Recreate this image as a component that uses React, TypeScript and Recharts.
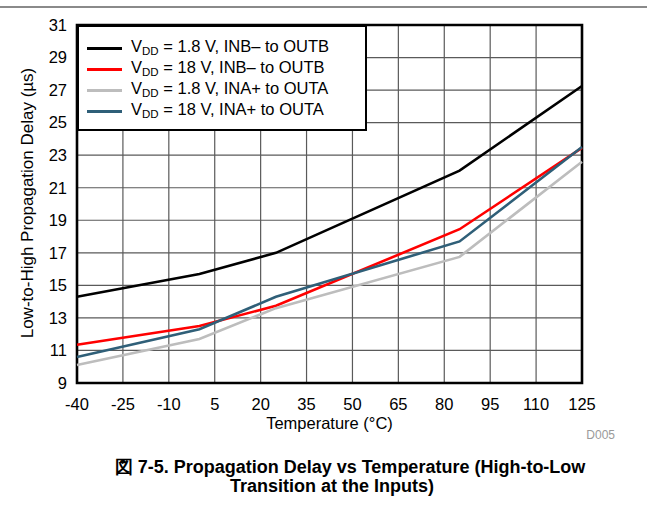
import { CartesianGrid, Label, Line, LineChart, ReferenceArea, XAxis, YAxis } from "recharts"

// Low-to-high propagation delay vs temperature, four driver paths.
const temperatures = [-40, 0, 25, 85, 125]
const vdd1v8InbToOutb = [14.3, 15.7, 17.0, 22.05, 27.25]
const vdd18InbToOutb = [11.35, 12.5, 13.75, 18.45, 23.45]
const vdd1v8InaToOuta = [10.1, 11.7, 13.6, 16.75, 22.6]
const vdd18InaToOuta = [10.6, 12.3, 14.3, 17.7, 23.5]

const xTicks = [-40, -25, -10, 5, 20, 35, 50, 65, 80, 95, 110, 125]
const yTicks = [9, 11, 13, 15, 17, 19, 21, 23, 25, 27, 29, 31]

const FONT = "'Liberation Sans', Arial, Helvetica, sans-serif"

const SERIES = [
  { key: "a", vdd: "1.8 V", path: "INB\u2013 to OUTB", color: "#000000", values: vdd1v8InbToOutb },
  { key: "b", vdd: "18 V", path: "INB\u2013 to OUTB", color: "#ff0000", values: vdd18InbToOutb },
  { key: "c", vdd: "1.8 V", path: "INA+ to OUTA", color: "#bdbdbd", values: vdd1v8InaToOuta },
  { key: "d", vdd: "18 V", path: "INA+ to OUTA", color: "#2f5f78", values: vdd18InaToOuta },
]

const rows = temperatures.map((t, i) => ({
  t,
  ...Object.fromEntries(SERIES.map((s) => [s.key, s.values[i]])),
}))

function LegendBox() {
  return (
    <div
      style={{
        position: "absolute",
        left: 77,
        top: 25,
        width: 290,
        height: 106,
        boxSizing: "border-box",
        border: "2px solid #000",
        background: "#fff",
        paddingTop: 11,
        paddingLeft: 8,
      }}
    >
      {SERIES.map((s) => (
        <div key={s.key} style={{ display: "flex", alignItems: "center", height: 21 }}>
          <div style={{ width: 35, height: 3, background: s.color, marginRight: 9 }} />
          <span style={{ fontSize: 16.5, color: "#000", whiteSpace: "nowrap", lineHeight: "16px" }}>
            V<sub style={{ fontSize: 11.5, verticalAlign: "-3px" }}>DD</sub> = {s.vdd}, {s.path}
          </span>
        </div>
      ))}
    </div>
  )
}

const titleStyle = {
  position: "absolute" as const,
  left: 0,
  textAlign: "center" as const,
  fontSize: 18,
  fontWeight: "bold" as const,
  color: "#000",
  whiteSpace: "nowrap" as const,
}

export default function App() {
  return (
    <div
      style={{
        position: "absolute",
        left: 0,
        top: 0,
        width: 647,
        height: 508,
        background: "#fff",
        fontFamily: FONT,
        overflow: "hidden",
      }}
    >
      <div style={{ position: "absolute", left: 0, top: 6, width: 647, height: 2, background: "#8a8a8a" }} />
      <LineChart
        width={647}
        height={440}
        data={rows}
        margin={{ top: 25, right: 65, bottom: 7, left: 0 }}
        style={{ fontFamily: FONT }}
      >
        <CartesianGrid stroke="#5a5a5a" strokeWidth={1.2} />
        <XAxis
          dataKey="t"
          type="number"
          domain={[-40, 125]}
          ticks={xTicks}
          height={50}
          tickLine={false}
          axisLine={false}
          tickSize={0}
          tickMargin={15}
          tick={{ fill: "#000", fontSize: 16.5 }}
          interval={0}
        >
          <Label value="Temperature (°C)" position="insideBottom" offset={4} fill="#000" fontSize={16.5} />
        </XAxis>
        <YAxis
          type="number"
          domain={[9, 31]}
          ticks={yTicks}
          width={77}
          tickLine={false}
          axisLine={false}
          tickSize={0}
          tickMargin={10}
          tick={{ fill: "#000", fontSize: 16.5 }}
          interval={0}
        />
        {SERIES.map((s) => (
          <Line
            key={s.key}
            dataKey={s.key}
            stroke={s.color}
            strokeWidth={2.6}
            dot={false}
            isAnimationActive={false}
          />
        ))}
        <ReferenceArea x1={-40} x2={125} y1={9} y2={31} fill="none" stroke="#000" strokeWidth={2.6} />
      </LineChart>
      <div
        style={{
          position: "absolute",
          left: 28 - 200,
          top: 203 - 10,
          width: 400,
          height: 20,
          lineHeight: "20px",
          textAlign: "center",
          fontSize: 17,
          color: "#000",
          transform: "rotate(-90deg)",
        }}
      >
        Low-to-High Propagation Delay (µs)
      </div>
      <LegendBox />
      <div style={{ position: "absolute", right: 32, top: 428, fontSize: 12, color: "#9a9a9a" }}>D005</div>
      <div style={{ ...titleStyle, top: 455, width: 700 }}>
        図 7-5. Propagation Delay vs Temperature (High-to-Low
      </div>
      <div style={{ ...titleStyle, top: 476, width: 664 }}>Transition at the Inputs)</div>
    </div>
  )
}
